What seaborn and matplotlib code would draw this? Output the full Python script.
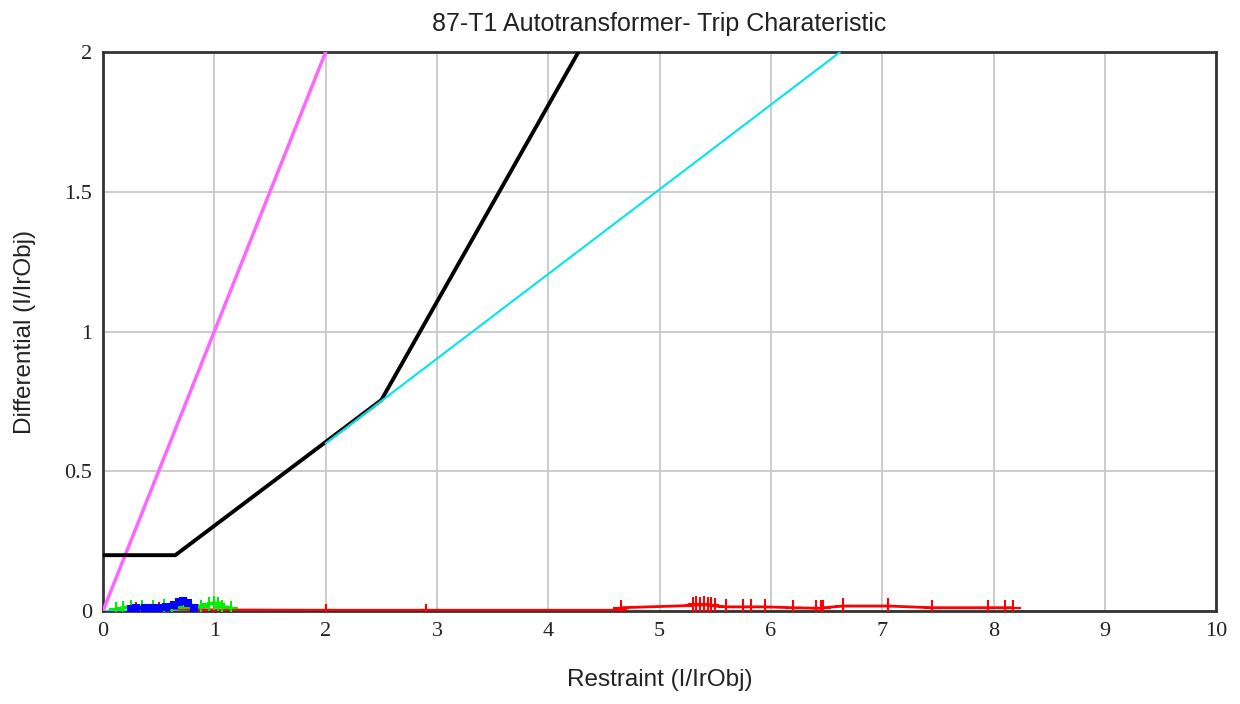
import matplotlib
matplotlib.use("Agg")
import matplotlib.pyplot as plt
import seaborn as sns
import pandas as pd

# Characteristic curves
char_x = [0.0, 0.65, 2.0, 2.5, 4.27]
char_y = [0.2, 0.2, 0.605, 0.755, 2.0]
slope1_x = [2.0, 6.62]
slope1_y = [0.6, 2.0]
unity_x = [0.0, 2.0]
unity_y = [0.0, 2.0]
base_x = [0.0, 2.0]
base_y = [0.0, 0.0]

# Measured points
green_x = [0.12, 0.18, 0.25, 0.35, 0.45, 0.55, 0.62, 0.88, 0.95, 1.0, 1.03, 1.07, 1.15]
green_y = [0.006, 0.012, 0.015, 0.013, 0.015, 0.017, 0.012, 0.016, 0.024, 0.03, 0.024, 0.016, 0.012]
blue_x = [0.25, 0.3, 0.38, 0.45, 0.5, 0.57, 0.64, 0.68, 0.72, 0.76, 0.82]
blue_y = [0.008, 0.01, 0.012, 0.01, 0.012, 0.014, 0.022, 0.032, 0.036, 0.03, 0.01]
red_low_x = [0.3, 0.35, 0.45, 0.5, 0.85, 1.0, 2.0, 2.9, 4.65]
red_low_y = [0.012, 0.01, 0.012, 0.01, 0.005, 0.004, 0.003, 0.003, 0.003]
red_x = [4.65, 5.3, 5.33, 5.36, 5.4, 5.43, 5.46, 5.5, 5.6, 5.75, 5.82, 5.95, 6.2, 6.4, 6.45, 6.47,
         6.65, 7.05, 7.45, 7.95, 8.1, 8.17]
red_y = [0.012, 0.02, 0.025, 0.02, 0.025, 0.022, 0.02, 0.018, 0.015, 0.015, 0.015, 0.015, 0.012,
         0.01, 0.01, 0.012, 0.018, 0.018, 0.012, 0.012, 0.012, 0.012]

x_ticks = [0, 1, 2, 3, 4, 5, 6, 7, 8, 9, 10]
y_ticks = [0, 0.5, 1, 1.5, 2]
y_tick_labels = ["0", "0.5", "1", "1.5", "2"]

sns.set_style("whitegrid")
plt.rcParams["font.family"] = ["Liberation Sans", "DejaVu Sans"]

fig = plt.figure(figsize=(12.4, 7.04), dpi=100)
ax = fig.add_axes([0.083, 0.132, 0.898, 0.794])

def line(x, y, color, lw, marker=None, ms=0, z=2):
    df = pd.DataFrame({"x": x, "y": y})
    sns.lineplot(data=df, x="x", y="y", ax=ax, color=color, linewidth=lw, sort=False,
                 estimator=None, marker=marker, markersize=ms, markeredgewidth=1.5,
                 markeredgecolor=color, zorder=z)

line(base_x, base_y, "#00e5ee", 2.5, z=3)
line(unity_x, unity_y, "#ff66ff", 2.5, z=3)
line(char_x, char_y, "black", 2.8, z=4)
line(slope1_x, slope1_y, "#00e5ee", 1.5, z=4.5)
line(red_low_x, red_low_y, "red", 2.0, marker="+", ms=8, z=5)
line(green_x, green_y, "#00ee00", 2.5, marker="+", ms=10, z=5)
line(blue_x, blue_y, "#0000ff", 3.0, marker="s", ms=4, z=6)
line(red_x, red_y, "red", 2.0, marker="+", ms=12, z=5)

ax.set_xlim(0, 10)
ax.set_ylim(0, 2)
ax.set_xticks(x_ticks)
ax.set_yticks(y_ticks)
ax.set_yticklabels(y_tick_labels)
for lab in ax.get_xticklabels() + ax.get_yticklabels():
    lab.set_family("Liberation Serif")
    lab.set_fontsize(16)
    lab.set_color("#222222")
ax.tick_params(length=0, pad=8)
ax.grid(True, color="#c8c8c8", linewidth=1.3)
for s in ax.spines.values():
    s.set_color("#333333")
    s.set_linewidth(2)
    s.set_visible(True)
ax.set_facecolor("white")

ax.set_xlabel("Restraint (I/IrObj)", fontsize=17.5, labelpad=20, color="#222222")
ax.set_ylabel("Differential (I/IrObj)", fontsize=17.5, labelpad=20, color="#222222")
ax.set_title("87-T1 Autotransformer- Trip Charateristic", fontsize=18, pad=15, color="#222222")

fig.savefig("out.png", dpi=100)
